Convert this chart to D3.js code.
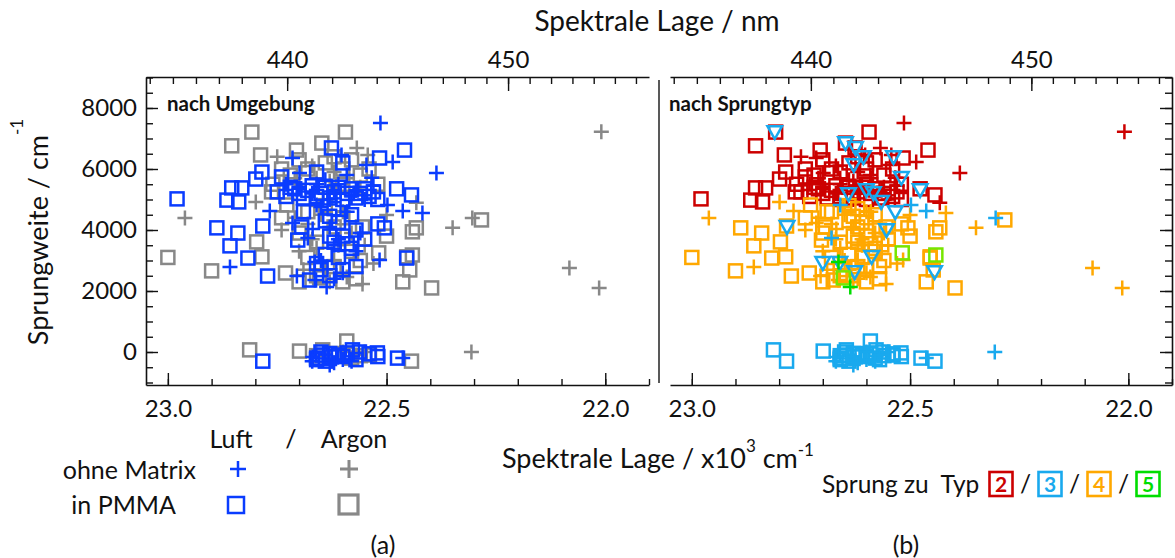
<!DOCTYPE html>
<html>
<head>
<meta charset="utf-8">
<script src="https://cdn.jsdelivr.net/npm/d3@7"></script>
<style>
body { margin: 0; background: #fff; }
text { font-family: Lato, "Open Sans", sans-serif; fill: #111; }
</style>
</head>
<body>
<script>
// points: [Spektrale Lage (10^3 cm^-1), Sprungweite (cm^-1), Sprung zu Typ]
var luftPlus = [
  [22.514,7510,2],[22.715,6360,2],[22.603,6460,2],[22.486,6230,2],[22.386,5870,2],[22.546,6130,2],
  [22.591,5800,2],[22.534,5710,2],[22.699,5870,2],[22.62,5300,2],[22.58,5100,2],[22.55,5000,2],
  [22.66,5500,2],[22.64,5650,2],[22.70,5350,2],[22.73,5500,2],[22.67,5200,2],[22.63,5000,2],
  [22.61,5500,2],[22.57,5300,2],[22.53,5450,2],
  [22.767,4620,4],[22.418,4560,4],[22.715,4230,4],[22.669,4030,4],[22.858,2790,4],[22.705,2490,4],
  [22.664,2360,4],[22.516,3020,4],[22.62,3500,4],[22.60,2600,4],[22.56,3900,4],[22.65,4750,4],
  [22.59,4600,4],[22.63,4100,4],[22.61,3700,4],[22.57,3300,4],[22.65,3000,4],[22.62,2400,4],
  [22.463,4620,3],[22.66,4820,3],[22.498,4820,3],[22.68,3740,3],[22.463,-200,3],[22.669,-160,3],
  [22.630,-430,3],[22.60,-250,3],[22.67,-300,3],[22.62,-350,3],[22.58,-300,3],
  [22.637,2130,5],[22.664,2950,5]
];
var luftSquare = [
  [22.626,6690,2],[22.459,6620,2],[22.516,6360,2],[22.785,5900,2],[22.799,5670,2],[22.740,5740,2],
  [22.979,5020,2],[22.865,4980,2],[22.838,4920,2],[22.854,5380,2],[22.831,5380,2],[22.477,5350,2],
  [22.443,5150,2],[22.72,5400,2],[22.70,5200,2],[22.68,5300,2],[22.66,5100,2],[22.64,5400,2],
  [22.62,5250,2],[22.60,5000,2],[22.58,5350,2],[22.56,5200,2],[22.54,5100,2],[22.52,5000,2],
  [22.66,5900,2],[22.60,6200,2],[22.75,5250,2],[22.73,5100,2],[22.71,5350,2],[22.69,5050,2],
  [22.67,5450,2],[22.65,5200,2],[22.63,5050,2],[22.61,5400,2],[22.59,5200,2],[22.57,5050,2],
  [22.55,5350,2],[22.53,5250,2],
  [22.888,4070,4],[22.840,3900,4],[22.858,3480,4],[22.783,4130,4],[22.505,4070,4],[22.694,4100,4],
  [22.703,3670,4],[22.817,3080,4],[22.772,2490,4],[22.454,3080,4],[22.676,2360,4],[22.62,4700,4],
  [22.58,4500,4],[22.64,4300,4],[22.60,3800,4],[22.62,3600,4],[22.58,3400,4],[22.55,3700,4],
  [22.64,3200,4],[22.66,2900,4],[22.60,2700,4],[22.52,4200,4],[22.69,4600,4],[22.63,4450,4],
  [22.61,4250,4],[22.57,4000,4],[22.63,3800,4],[22.59,3550,4],[22.61,3100,4],[22.65,2700,4],
  [22.63,2500,4],[22.57,2800,4],
  [22.783,-300,3],[22.646,-100,3],[22.562,0,3],[22.521,-30,3],[22.475,-200,3],[22.660,-200,3],
  [22.626,-160,3],[22.578,70,3],[22.64,-300,3],[22.60,-150,3],[22.54,-60,3],[22.66,-250,3],
  [22.65,0,3],[22.63,-50,3],[22.61,-100,3],[22.59,-30,3],[22.57,-250,3],[22.52,-150,3]
];
var argonPlus = [
  [22.568,6690,2],[22.543,6460,2],[22.432,4890,2],[22.009,7220,2],[22.70,5500,2],[22.66,5700,2],
  [22.62,5900,2],[22.56,5400,2],[22.75,6400,2],[22.67,6100,2],[22.63,5600,2],[22.59,5700,2],
  [22.71,5700,2],
  [22.961,4390,4],[22.799,4920,4],[22.349,4070,4],[22.740,4000,4],[22.500,4490,4],[22.555,2230,4],
  [22.591,2460,4],[22.082,2750,4],[22.014,2100,4],[22.60,4600,4],[22.66,3400,4],[22.62,3000,4],
  [22.70,3300,4],[22.58,3900,4],[22.53,2900,4],[22.64,2700,4],[22.68,4200,4],[22.65,4500,4],
  [22.71,4400,4],[22.67,3700,4],[22.61,3500,4],[22.55,3500,4],[22.63,2300,4],[22.69,2700,4],
  [22.306,0,3],[22.304,4390,3],[22.57,-100,3],[22.60,0,3],[22.63,-150,3],[22.55,0,3]
];
var argonSquare = [
  [22.808,7210,2],[22.854,6760,2],[22.594,7210,2],[22.648,6850,2],[22.788,6460,2],[22.706,6620,2],
  [22.763,5250,2],[22.72,5800,2],[22.68,6000,2],[22.64,6200,2],[22.60,6000,2],[22.56,5800,2],
  [22.52,5500,2],[22.66,5000,2],[22.60,5500,2],[22.74,6000,2],[22.70,6300,2],[22.62,6400,2],
  [22.58,6300,2],[22.54,6000,2],[22.76,5500,2],
  [22.432,4070,4],[22.441,3940,4],[23.000,3100,4],[22.454,3120,4],[22.555,4100,4],[22.728,4820,4],
  [22.797,3610,4],[22.785,3120,4],[22.900,2660,4],[22.731,2590,4],[22.463,2300,4],[22.397,2100,4],
  [22.447,2690,4],[22.283,4330,4],[22.74,4400,4],[22.70,3900,4],[22.62,4100,4],[22.58,3300,4],
  [22.66,2500,4],[22.60,2300,4],[22.70,2300,4],[22.50,3800,4],[22.57,2400,4],[22.68,4600,4],
  [22.64,4800,4],[22.60,4400,4],[22.66,3600,4],[22.62,2800,4],[22.56,3000,4],[22.68,3100,4],
  [22.813,70,3],[22.699,30,3],[22.591,360,3],[22.443,-300,3],[22.539,-100,3],[22.646,70,3],
  [22.62,-50,3],[22.58,-200,3],[22.66,-120,3],[22.60,-60,3],[22.56,-120,3],
  [22.518,3250,5],[22.441,3180,5],[22.653,2430,5]
];
// extra type-3 points only shown in panel (b)
var typ3Triangles = [
  [22.810,7210],[22.648,6850],[22.625,6690],[22.607,6390],[22.629,6130],[22.538,6390],[22.520,5710],
  [22.641,5180],[22.600,5310],[22.584,5210],[22.566,4920],[22.477,5310],[22.534,4590],[22.782,4100],
  [22.554,4000],[22.700,2920],[22.661,2920],[22.627,2620],[22.588,3120],[22.444,2620]
];

var xMajorTicks = [23.0, 22.5, 22.0];
var xMinorTicks = d3.range(0, 12).map(function(i) { return +(23.0 - i * 0.1).toFixed(1); });
var nmTicks = d3.range(434, 457);
var nmLabels = [440, 450];
var yMinorTicks = d3.range(-1000, 9001, 500);
var yMajorTicks = [0, 2000, 4000, 6000, 8000];
var typeLabels = [2, 3, 4, 5];

var envColor = { luft: "#0a3cff", argon: "#888888" };
var typeColor = { 2: "#cc0000", 3: "#19a9ee", 4: "#ffa800", 5: "#00dd00" };
var typ5Square = "#77e600";

var width = 1175, height = 558;
var top0 = 77, bottom0 = 385;

var svg = d3.select("body").append("svg")
    .attr("width", width)
    .attr("height", height);

var y = d3.scaleLinear().domain([-1082, 9016]).range([bottom0, top0]);
var xDomain = [23.05, 21.9];

function styleAxis(g) {
  g.select(".domain").attr("stroke", "#111").attr("stroke-width", 1.6);
  g.selectAll(".tick line").attr("stroke", "#111").attr("stroke-width", 1.4);
  g.selectAll("text").attr("font-size", 24).attr("fill", "#111").attr("font-family", "Lato");
}

function plusPath(s) { return "M" + (-s) + ",0H" + s + "M0," + (-s) + "V" + s; }
function triPath(s) { return "M" + (-s) + "," + (-s * 0.8) + "H" + s + "L0," + (s * 0.95) + "Z"; }

function drawAxes(x, x0, x1, side) {
  // bottom
  svg.append("g").attr("transform", "translate(0," + bottom0 + ")")
    .call(d3.axisBottom(x).tickValues(xMinorTicks).tickSize(-6).tickSizeOuter(0).tickFormat(""))
    .call(styleAxis);
  svg.append("g").attr("transform", "translate(0," + bottom0 + ")")
    .call(d3.axisBottom(x).tickValues(xMajorTicks).tickSize(-12).tickPadding(15).tickSizeOuter(0)
      .tickFormat(d3.format(".1f")))
    .call(styleAxis)
    .select(".domain").remove();
  // top, in nm
  svg.append("g").attr("transform", "translate(0," + top0 + ")")
    .call(d3.axisTop(x).tickValues(nmTicks.map(function(n) { return 1e4 / n; }))
      .tickSize(-7).tickSizeOuter(0).tickFormat(""))
    .call(styleAxis);
  svg.append("g").attr("transform", "translate(0," + top0 + ")")
    .call(d3.axisTop(x).tickValues(nmLabels.map(function(n) { return 1e4 / n; }))
      .tickSize(-14).tickPadding(9).tickSizeOuter(0)
      .tickFormat(function(d) { return Math.round(1e4 / d); }))
    .call(styleAxis)
    .select(".domain").remove();
  // y
  var ax = side == "left" ? d3.axisLeft : d3.axisRight;
  var xa = side == "left" ? x0 : x1;
  svg.append("g").attr("transform", "translate(" + xa + ",0)")
    .call(ax(y).tickValues(yMinorTicks).tickSize(-7).tickSizeOuter(0).tickFormat(""))
    .call(styleAxis);
  var major = svg.append("g").attr("transform", "translate(" + xa + ",0)")
    .call(ax(y).tickValues(yMajorTicks).tickSize(-12).tickPadding(9).tickSizeOuter(0)
      .tickFormat(side == "left" ? d3.format("d") : ""))
    .call(styleAxis);
  major.select(".domain").remove();
}

function drawMarks(g, x, data, shape, colorOf) {
  if (shape == "plus") {
    g.selectAll(null).data(data).enter().append("path")
      .attr("d", plusPath(7.5))
      .attr("transform", function(d) { return "translate(" + x(d[0]) + "," + y(d[1]) + ")"; })
      .attr("fill", "none").attr("stroke", colorOf).attr("stroke-width", 2.5);
  } else if (shape == "square") {
    g.selectAll(null).data(data).enter().append("rect")
      .attr("x", function(d) { return x(d[0]) - 6.5; })
      .attr("y", function(d) { return y(d[1]) - 6.5; })
      .attr("width", 13).attr("height", 13)
      .attr("fill", "none").attr("stroke", colorOf).attr("stroke-width", 2.5);
  } else {
    g.selectAll(null).data(data).enter().append("path")
      .attr("d", triPath(7.3))
      .attr("transform", function(d) { return "translate(" + x(d[0]) + "," + y(d[1]) + ")"; })
      .attr("fill", "none").attr("stroke", colorOf).attr("stroke-width", 2.5);
  }
}

// ---- panel (a): nach Umgebung
var xa = d3.scaleLinear().domain(xDomain).range([146, 649]);
drawAxes(xa, 146, 649, "left");
var ga = svg.append("g");
drawMarks(ga, xa, argonSquare, "square", function() { return envColor.argon; });
drawMarks(ga, xa, argonPlus, "plus", function() { return envColor.argon; });
drawMarks(ga, xa, luftSquare, "square", function() { return envColor.luft; });
drawMarks(ga, xa, luftPlus, "plus", function() { return envColor.luft; });

// ---- panel (b): nach Sprungtyp
var xb = d3.scaleLinear().domain(xDomain).range([670, 1172]);
drawAxes(xb, 670, 1172, "right");
var gb = svg.append("g");
var squaresAll = argonSquare.concat(luftSquare);
var plusAll = argonPlus.concat(luftPlus);
function byType(arr, t) { return arr.filter(function(d) { return d[2] == t; }); }
[2, 4, 3].forEach(function(t) {
  drawMarks(gb, xb, byType(squaresAll, t), "square", function() { return typeColor[t]; });
  drawMarks(gb, xb, byType(plusAll, t), "plus", function() { return typeColor[t]; });
});
drawMarks(gb, xb, typ3Triangles, "tri", function() { return typeColor[3]; });
drawMarks(gb, xb, byType(squaresAll, 5), "square", function() { return typ5Square; });
drawMarks(gb, xb, byType(plusAll, 5), "plus", function() { return typeColor[5]; });

// separator
svg.append("line").attr("x1", 659).attr("x2", 659).attr("y1", 80).attr("y2", 383)
  .attr("stroke", "#222").attr("stroke-width", 1.5);

// panel labels
svg.append("text").attr("x", 167).attr("y", 111).attr("font-size", 20.5).attr("font-weight", "bold")
  .text("nach Umgebung");
svg.append("text").attr("x", 669).attr("y", 111).attr("font-size", 20.5).attr("font-weight", "bold")
  .text("nach Sprungtyp");

// axis titles
svg.append("text").attr("x", 657).attr("y", 31).attr("text-anchor", "middle").attr("font-size", 28)
  .text("Spektrale Lage / nm");
var xt = svg.append("text").attr("x", 658).attr("y", 468).attr("text-anchor", "middle").attr("font-size", 27);
xt.append("tspan").text("Spektrale Lage / x10");
xt.append("tspan").attr("dy", -16).attr("font-size", 17).text("3");
xt.append("tspan").attr("dy", 16).text(" cm");
xt.append("tspan").attr("dy", -12).attr("font-size", 17).text("-1");

var yt = svg.append("text").attr("transform", "translate(48,232) rotate(-90)")
  .attr("text-anchor", "middle").attr("font-size", 27);
yt.append("tspan").text("Sprungweite / cm");
yt.append("tspan").attr("dy", -25).attr("font-size", 17).text("-1");

// legend (a)
var legA = svg.append("g").attr("font-size", 25);
legA.append("text").attr("x", 231).attr("y", 448).attr("text-anchor", "middle").text("Luft");
legA.append("text").attr("x", 291).attr("y", 448).attr("text-anchor", "middle").text("/");
legA.append("text").attr("x", 354).attr("y", 448).attr("text-anchor", "middle").text("Argon");
legA.append("text").attr("x", 196).attr("y", 479).attr("text-anchor", "end").text("ohne Matrix");
legA.append("text").attr("x", 176).attr("y", 514).attr("text-anchor", "end").text("in PMMA");
legA.append("path").attr("d", plusPath(8)).attr("transform", "translate(238,469)")
  .attr("stroke", envColor.luft).attr("stroke-width", 2.5).attr("fill", "none");
legA.append("path").attr("d", plusPath(9)).attr("transform", "translate(349,469)")
  .attr("stroke", envColor.argon).attr("stroke-width", 3).attr("fill", "none");
legA.append("rect").attr("x", 228).attr("y", 497).attr("width", 16).attr("height", 16)
  .attr("stroke", envColor.luft).attr("stroke-width", 2.5).attr("fill", "none");
legA.append("rect").attr("x", 339).attr("y", 495).attr("width", 19).attr("height", 19)
  .attr("stroke", envColor.argon).attr("stroke-width", 3.2).attr("fill", "none");
svg.append("text").attr("x", 383).attr("y", 554).attr("text-anchor", "middle").attr("font-size", 25).text("(a)");

// legend (b)
var legB = svg.append("g").attr("font-size", 24.5);
legB.append("text").attr("x", 822).attr("y", 493).text("Sprung zu\u00a0\u00a0Typ");
var boxX = d3.scalePoint().domain(typeLabels).range([1001, 1148]);
typeLabels.forEach(function(t, i) {
  var c = typeColor[t];
  legB.append("rect").attr("x", boxX(t) - 11.5).attr("y", 472).attr("width", 23).attr("height", 24)
    .attr("fill", "#fff").attr("stroke", c).attr("stroke-width", 2.6);
  legB.append("text").attr("x", boxX(t)).attr("y", 492).attr("text-anchor", "middle")
    .attr("font-weight", "bold").attr("font-size", 21).style("fill", c).text(t);
  if (i < typeLabels.length - 1) {
    legB.append("text").attr("x", (boxX(t) + boxX(typeLabels[i + 1])) / 2).attr("y", 493)
      .attr("text-anchor", "middle").text("/");
  }
});
svg.append("text").attr("x", 906).attr("y", 554).attr("text-anchor", "middle").attr("font-size", 25).text("(b)");
</script>
</body>
</html>
